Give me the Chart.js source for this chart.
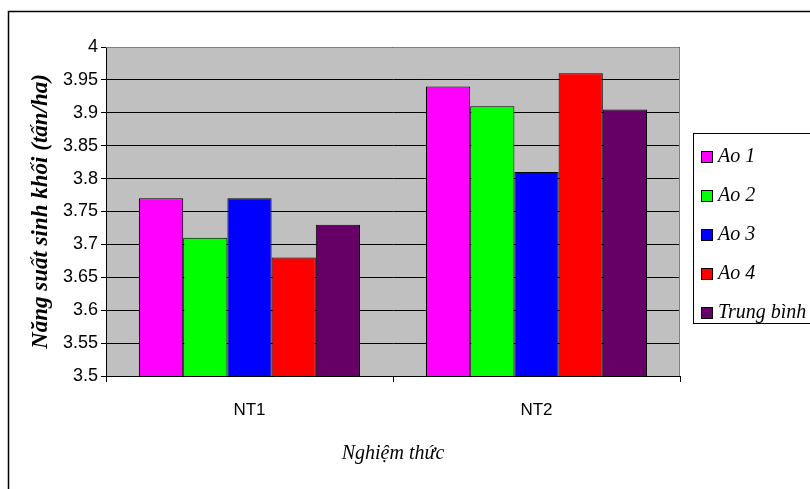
<!DOCTYPE html>
<html>
<head>
<meta charset="utf-8">
<script src="https://cdn.jsdelivr.net/npm/chart.js@4.4.1/dist/chart.umd.min.js"></script>
<style>
  html, body { margin: 0; padding: 0; background: #fff; }
</style>
</head>
<body>
<canvas id="yieldChart" width="810" height="489"></canvas>
<script>
const categories = ['NT1', 'NT2'];
const seriesNames = ['Ao 1', 'Ao 2', 'Ao 3', 'Ao 4', 'Trung bình'];
const ao1 = [3.77, 3.94];
const ao2 = [3.71, 3.91];
const ao3 = [3.77, 3.81];
const ao4 = [3.68, 3.96];
const trungBinh = [3.73, 3.905];
const colors = ['#FF00FF', '#00FF00', '#0000FF', '#FF0000', '#660066'];

const yMin = 3.5, yMax = 4, yStep = 0.05;

// gray plot background + outer frame
const backdrop = {
    id: 'backdrop',
    beforeDraw(chart) {
        const { ctx, chartArea: a } = chart;
        ctx.save();
        ctx.fillStyle = '#C0C0C0';
        ctx.fillRect(a.left, a.top, a.right - a.left, a.bottom - a.top);
        // outer frame (left + top only visible)
        ctx.strokeStyle = '#000';
        ctx.lineWidth = 1.5;
        ctx.beginPath();
        ctx.moveTo(8.5, 489);
        ctx.lineTo(8.5, 11.5);
        ctx.lineTo(810, 11.5);
        ctx.stroke();
        ctx.restore();
    },
    afterDatasetsDraw(chart) {
        const { ctx, chartArea: a } = chart;
        ctx.save();
        ctx.strokeStyle = '#808080';
        ctx.lineWidth = 1;
        ctx.beginPath();
        ctx.moveTo(a.left, a.top + 0.5);
        ctx.lineTo(a.right - 0.5, a.top + 0.5);
        ctx.lineTo(a.right - 0.5, a.bottom);
        ctx.stroke();
        ctx.restore();
    }
};

// Excel-style legend box on the right
const boxLegend = {
    id: 'boxLegend',
    afterDraw(chart) {
        const { ctx } = chart;
        const x = 693.5, y = 133.5, w = 130, h = 190;
        ctx.save();
        ctx.fillStyle = '#fff';
        ctx.fillRect(x, y, w, h);
        ctx.strokeStyle = '#000';
        ctx.lineWidth = 1;
        ctx.strokeRect(x, y, w, h);
        ctx.font = 'italic 20px "Liberation Serif", "Times New Roman", serif';
        ctx.textBaseline = 'middle';
        chart.data.datasets.forEach((ds, i) => {
            const cy = 157 + i * 39;
            ctx.fillStyle = ds.backgroundColor;
            ctx.fillRect(701, cy - 6, 12, 12);
            ctx.strokeRect(701.5, cy - 5.5, 11, 11);
            ctx.fillStyle = '#000';
            ctx.fillText(ds.label, 718, cy);
        });
        ctx.restore();
    }
};

const series = [ao1, ao2, ao3, ao4, trungBinh];

new Chart(document.getElementById('yieldChart'), {
    type: 'bar',
    data: {
        labels: categories,
        datasets: series.map((vals, i) => ({
            label: seriesNames[i],
            data: vals,
            backgroundColor: colors[i],
            borderColor: '#000',
            borderWidth: 1,
            borderSkipped: false,
            categoryPercentage: 0.77,
            barPercentage: 1
        }))
    },
    options: {
        responsive: false,
        animation: false,
        layout: { padding: { left: 8, top: 47, right: 130, bottom: 0 } },
        plugins: {
            legend: { display: false },
            tooltip: { enabled: false }
        },
        scales: {
            x: {
                grid: {
                    offset: true,
                    drawOnChartArea: false,
                    color: '#000',
                    tickLength: 6
                },
                border: { color: '#000', width: 1 },
                ticks: {
                    color: '#000',
                    padding: 18,
                    font: { family: '"Liberation Sans Narrow", "Liberation Sans", Arial, sans-serif', size: 17 }
                },
                title: {
                    display: true,
                    text: 'Nghiệm thức',
                    color: '#000',
                    padding: { top: 0, bottom: 23 },
                    font: { family: '"Liberation Serif", "Times New Roman", serif', size: 20, style: 'italic' }
                },
                afterFit(scale) { scale.height = 113; }
            },
            y: {
                min: yMin,
                max: yMax,
                grid: { color: '#000', lineWidth: 1, tickLength: 5 },
                border: { color: '#000', width: 1 },
                ticks: {
                    stepSize: yStep,
                    color: '#000',
                    padding: 3,
                    font: { family: '"Liberation Sans Narrow", "Liberation Sans", Arial, sans-serif', size: 18 },
                    callback: v => String(parseFloat(v.toFixed(2)))
                },
                title: {
                    display: true,
                    text: 'Năng suất sinh khối (tấn/ha)',
                    color: '#000',
                    padding: { top: 19, bottom: 0 },
                    font: { family: '"Liberation Serif", "Times New Roman", serif', size: 23, style: 'italic', weight: 'bold' }
                },
                afterFit(scale) { scale.width = 98; }
            }
        }
    },
    plugins: [backdrop, boxLegend]
});
</script>
</body>
</html>
